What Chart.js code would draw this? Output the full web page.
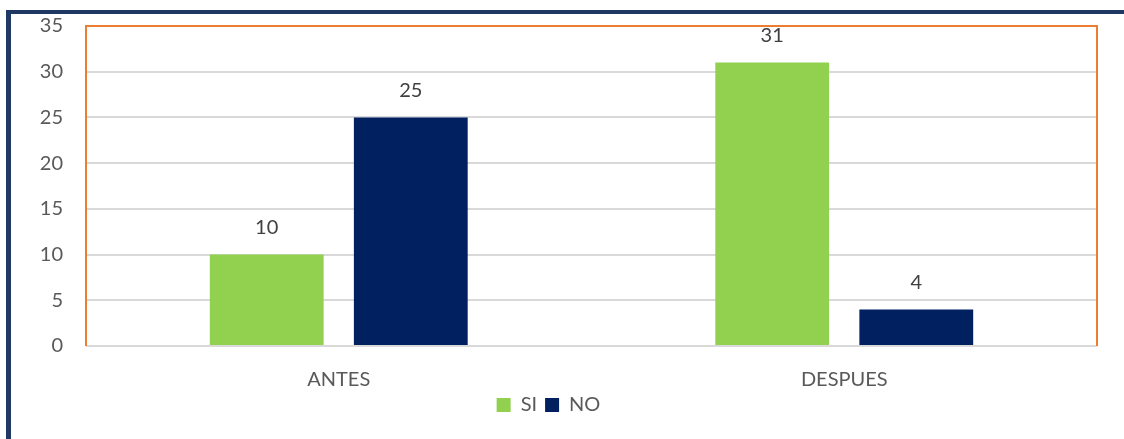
<!DOCTYPE html>
<html>
<head>
<meta charset="utf-8">
<script src="https://cdn.jsdelivr.net/npm/chart.js@4.4.1/dist/chart.umd.min.js"></script>
<style>
  html, body { margin: 0; padding: 0; background: #fff; }
  #wrap { width: 1124px; height: 439px; position: relative; }
</style>
</head>
<body>
<div id="wrap"><canvas id="myChart"></canvas></div>
<script>
// data
const categories = ["ANTES", "DESPUES"];
const seriesNames = ["SI", "NO"];
const siValues = [10, 31];
const noValues = [25, 4];
const yTicks = [0, 5, 10, 15, 20, 25, 30, 35];

const textColor = "#595959";
const fontFamily = "Lato, 'Open Sans', sans-serif";

// frame + orange plot border
const framePlugin = {
    id: "frame",
    beforeDraw(chart) {
        const c = chart.ctx;
        c.save();
        c.fillStyle = "#fff";
        c.fillRect(0, 0, chart.width, chart.height);
        c.fillStyle = "#1F3864";
        c.fillRect(6, 10, chart.width - 6, 4);
        c.fillRect(6, 10, 5, chart.height - 10);
        c.restore();
    },
    afterDatasetsDraw(chart) {
        const a = chart.chartArea;
        const c = chart.ctx;
        c.save();
        c.strokeStyle = "#D9D9D9";
        c.lineWidth = 2;
        c.beginPath();
        c.moveTo(a.left, a.bottom);
        c.lineTo(a.right, a.bottom);
        c.stroke();
        c.strokeStyle = "#ED7D31";
        c.lineWidth = 2;
        c.beginPath();
        c.moveTo(a.left, a.bottom);
        c.lineTo(a.left, a.top);
        c.lineTo(a.right, a.top);
        c.lineTo(a.right, a.bottom);
        c.stroke();
        c.restore();
    }
};

// value labels above bars
const labelPlugin = {
    id: "valueLabels",
    afterDatasetsDraw(chart) {
        const c = chart.ctx;
        c.save();
        c.font = "20px " + fontFamily;
        c.fillStyle = "#404040";
        c.textAlign = "center";
        c.textBaseline = "middle";
        chart.data.datasets.forEach((ds, i) => {
            chart.getDatasetMeta(i).data.forEach((bar, j) => {
                c.fillText(ds.data[j], bar.x, bar.y - 27);
            });
        });
        c.restore();
    }
};

new Chart(document.getElementById("myChart"), {
    type: "bar",
    data: {
        labels: categories,
        datasets: [
            { label: seriesNames[0], data: siValues, backgroundColor: "#92D050" },
            { label: seriesNames[1], data: noValues, backgroundColor: "#002060" }
        ]
    },
    options: {
        responsive: true,
        maintainAspectRatio: false,
        animation: false,
        categoryPercentage: 0.57,
        barPercentage: 0.79,
        layout: { padding: { left: 0, top: 26, right: 27, bottom: 14 } },
        scales: {
            x: {
                grid: { display: false, drawTicks: false },
                border: { display: false },
                ticks: { color: textColor, font: { family: fontFamily, size: 20 }, padding: 22 },
                afterFit(scale) {
                    scale.height = 41;
                    scale.paddingLeft = 0;
                    scale.paddingRight = 0;
                }
            },
            y: {
                min: 0,
                max: 35,
                afterBuildTicks(scale) { scale.ticks = yTicks.map(v => ({ value: v })); },
                grid: { color: "#D9D9D9", lineWidth: 2, drawTicks: false },
                border: { display: false },
                ticks: { color: textColor, font: { family: fontFamily, size: 20 }, padding: 23 },
                afterFit(scale) {
                    scale.width = 86;
                    scale.paddingTop = 0;
                    scale.paddingBottom = 0;
                }
            }
        },
        plugins: {
            legend: {
                position: "bottom",
                labels: {
                    color: textColor,
                    font: { family: fontFamily, size: 20 },
                    boxWidth: 14,
                    boxHeight: 14,
                    padding: 8
                }
            },
            tooltip: { enabled: false }
        }
    },
    plugins: [framePlugin, labelPlugin]
});
</script>
</body>
</html>
